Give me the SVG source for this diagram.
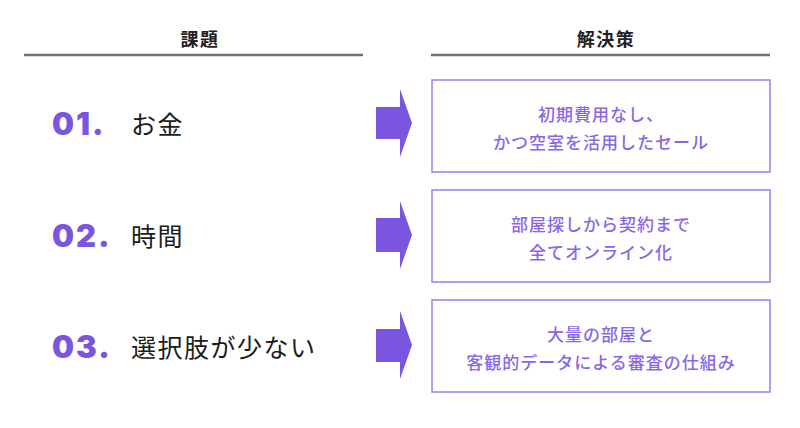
<svg xmlns="http://www.w3.org/2000/svg" width="800" height="428" viewBox="0 0 800 428">
<style>
.hdr{font-family:"Noto Sans CJK JP","Noto Sans",sans-serif;font-weight:700;font-size:18px;fill:#222;text-anchor:middle;letter-spacing:1.5px}
.rule{stroke:#6b7276;stroke-width:2.5}
.num{font-family:Inter,"Noto Sans",sans-serif;font-weight:900;font-size:31px;fill:#7b55e0;letter-spacing:2px}
.issue{font-family:"Noto Sans CJK JP",sans-serif;font-size:25px;fill:#1c1c1c;letter-spacing:1.5px}
.box{fill:#fff;stroke:#a283f0;stroke-width:1.6}
.sol{font-family:"Noto Sans CJK JP",sans-serif;font-size:17px;font-weight:500;fill:#8a66e8;text-anchor:middle;letter-spacing:1px}
.arrow{fill:#7b55e0}
</style>
<rect width="800" height="428" fill="#fff"/>
<g id="header-left">
<text class="hdr" x="200" y="46">課題</text>
<line class="rule" x1="24" y1="55" x2="363" y2="55"/>
</g>
<g id="header-right">
<text class="hdr" x="606" y="46">解決策</text>
<line class="rule" x1="431" y1="55" x2="770" y2="55"/>
</g>
<g id="issue1">
<text class="num" x="52" y="135">01.</text>
<text class="issue" x="131" y="134">お金</text>
</g>
<g id="issue2">
<text class="num" x="52" y="247">02.</text>
<text class="issue" x="131" y="246">時間</text>
</g>
<g id="issue3">
<text class="num" x="52" y="358">03.</text>
<text class="issue" x="131" y="357">選択肢が少ない</text>
</g>
<g id="connectors">
<path class="arrow" d="M376 107 H400 V89 L412 123 L400 157 V139 H376 Z"/>
<path class="arrow" d="M376 218 H400 V201 L412 235 L400 269 V252 H376 Z"/>
<path class="arrow" d="M376 329 H400 V311 L412 345 L400 379 V362 H376 Z"/>
</g>
<g id="solution1">
<rect class="box" x="432" y="80" width="338" height="92"/>
<text class="sol" x="601" y="121">初期費用なし、</text>
<text class="sol" x="601" y="149">かつ空室を活用したセール</text>
</g>
<g id="solution2">
<rect class="box" x="432" y="190" width="338" height="92"/>
<text class="sol" x="601" y="231">部屋探しから契約まで</text>
<text class="sol" x="601" y="259">全てオンライン化</text>
</g>
<g id="solution3">
<rect class="box" x="432" y="300" width="338" height="92"/>
<text class="sol" x="601" y="341">大量の部屋と</text>
<text class="sol" x="601" y="369">客観的データによる審査の仕組み</text>
</g>
</svg>
